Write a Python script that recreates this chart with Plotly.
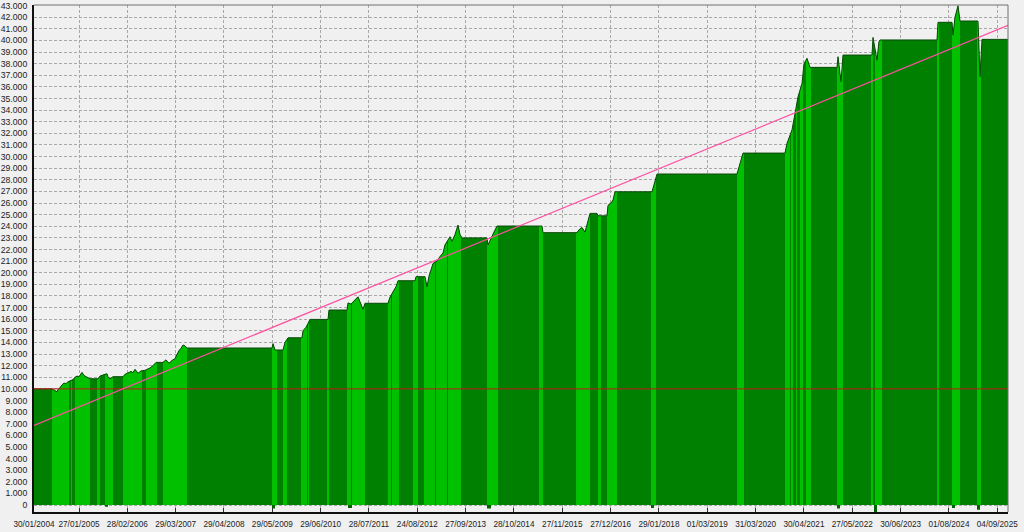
import numpy as np
import plotly.graph_objects as go

# ---- data (bar index along the test, account value) ----
eq_x = [0, 18, 20, 23, 24, 26, 28, 30, 32, 33, 35, 37, 39, 41, 43, 45, 47, 48, 50, 52, 54, 56, 64, 66, 69, 73,
        74, 76, 79, 89, 91, 94, 97, 99, 101, 104, 107, 111, 116, 119, 122, 129, 132, 135, 138, 141, 143, 145,
        147, 149, 151, 153, 238, 239, 241, 249, 251, 254, 268, 269, 272, 274, 276, 294, 295, 313, 314, 317,
        320, 324, 326, 329, 331, 354, 356, 360, 362, 364, 381, 382, 391, 393, 395, 399, 403, 406, 409, 411,
        414, 416, 418, 421, 424, 426, 428, 453, 454, 457, 460, 463, 508, 509, 543, 545, 548, 551, 554, 556,
        563, 564, 573, 574, 577, 579, 581, 618, 623, 703, 709, 751, 753, 758, 761, 764, 768, 770, 773, 776,
        803, 804, 807, 809, 838, 839, 843, 845, 846, 903, 904, 918, 919, 921, 924, 926, 944, 946, 948, 974]
eq_y = [10000, 10000, 9900, 9750, 9950, 10100, 10350, 10500, 10450, 10550, 10650, 10750, 10800, 11000, 11100,
        11050, 11250, 11420, 11150, 11050, 11000, 10870, 10870, 11100, 11200, 11300, 11050, 10850, 11050,
        11050, 11250, 11350, 11500, 11400, 11680, 11350, 11550, 11600, 11800, 12000, 12280, 12280, 12500,
        12200, 12450, 12600, 13000, 13300, 13500, 13780, 13700, 13520, 13520, 13900, 13350, 13350, 14000,
        14400, 14400, 15000, 15300, 15700, 15980, 15980, 16790, 16790, 17400, 17300, 17600, 17930, 17500,
        16850, 17370, 17370, 17900, 18500, 18800, 19310, 19310, 19660, 19660, 18800, 19700, 20800, 21000,
        21400, 21700, 22400, 22800, 23100, 22700, 23300, 24100, 23300, 23000, 23000, 22400, 23000, 23500,
        24020, 24020, 23450, 23450, 23700, 23900, 23500, 24400, 25110, 25110, 24900, 24900, 25800, 26000,
        26260, 26970, 26970, 28500, 28500, 30300, 30300, 31140, 32300, 33700, 35150, 36300, 38000, 38460,
        37680, 37680, 38600, 36450, 38740, 38740, 40260, 38300, 39900, 40040, 40040, 41560, 41560, 40460,
        42000, 42990, 41670, 41670, 36880, 40090, 40090]

# periods with open positions (bright green)
band_start = [18, 37, 41, 63, 71, 89, 112, 129, 238, 249, 267, 274, 293, 313, 318, 354, 358, 379, 390, 402,
              414, 453, 505, 542, 564, 573, 617, 703, 751, 757, 762, 766, 772, 803, 837, 841, 903, 918, 943]
band_end = [35, 38, 56, 66, 79, 108, 123, 153, 243, 253, 273, 275, 295, 317, 331, 357, 365, 384, 401, 413,
            427, 464, 509, 556, 567, 583, 622, 710, 756, 759, 763, 769, 777, 809, 839, 848, 905, 926, 947]

# small drawdown markers below zero
dip_start = [71, 238, 314, 453, 617, 803, 840, 918, 943]
dip_end = [74, 241, 318, 457, 620, 806, 843, 921, 946]
dip_depth = [-150, -300, -250, -300, -250, -300, -600, -250, -400]

# linear trend and initial deposit
trend_x = [0, 974]
trend_y = [6860, 41300]
initial_deposit = 10000

date_labels = ["30/01/2004", "27/01/2005", "28/02/2006", "29/03/2007", "29/04/2008", "29/05/2009",
               "29/06/2010", "28/07/2011", "24/08/2012", "27/09/2013", "28/10/2014", "27/11/2015",
               "27/12/2016", "29/01/2018", "01/03/2019", "31/03/2020", "30/04/2021", "27/05/2022",
               "30/06/2023", "01/08/2024", "04/09/2025"]

# ---- figure ----
BG = "#f0f0f0"
DARK = "#008000"
BRIGHT = "#00c000"

fig = go.Figure()

fig.add_trace(go.Scatter(x=eq_x, y=eq_y, mode="lines", line=dict(width=0, color=DARK),
                         fill="tozeroy", fillcolor=DARK, hoverinfo="skip", showlegend=False))

ex = np.array(eq_x, dtype=float)
ey = np.array(eq_y, dtype=float)
bx, by = [], []
for a, b in zip(band_start, band_end):
    inner = (ex > a) & (ex < b)
    xs = [a, a] + list(ex[inner]) + [b, b]
    ys = [0, float(np.interp(a, ex, ey))] + list(ey[inner]) + [float(np.interp(b, ex, ey)), 0]
    bx += xs + [None]
    by += ys + [None]
fig.add_trace(go.Scatter(x=bx, y=by, mode="lines", line=dict(width=0, color=BRIGHT),
                         fill="toself", fillcolor=BRIGHT, hoverinfo="skip", showlegend=False))

dx, dy = [], []
for a, b, d in zip(dip_start, dip_end, dip_depth):
    dx += [a, a, b, b, None]
    dy += [0, d, d, 0, None]
fig.add_trace(go.Scatter(x=dx, y=dy, mode="lines", line=dict(width=0, color="#006400"),
                         fill="toself", fillcolor="#006400", hoverinfo="skip", showlegend=False))

fig.add_trace(go.Scatter(x=eq_x, y=eq_y, mode="lines", line=dict(width=1, color="#0a4a0a"),
                         hoverinfo="skip", showlegend=False))

fig.add_trace(go.Scatter(x=[trend_x[0], trend_x[-1]], y=[initial_deposit, initial_deposit], mode="lines",
                         line=dict(width=1, color="#c01818"), hoverinfo="skip", showlegend=False))
fig.add_trace(go.Scatter(x=trend_x, y=trend_y, mode="lines", line=dict(width=1.2, color="#ff4fa0"),
                         hoverinfo="skip", showlegend=False))

tickvals = [0] + [45 + 48.33 * k for k in range(len(date_labels) - 1)]

fig.update_layout(
    width=1024, height=532,
    margin=dict(l=34, r=16, t=5, b=20),
    paper_bgcolor=BG, plot_bgcolor=BG,
    separators=",.",
    font=dict(family="Liberation Sans, Arial, sans-serif", color="#222222"),
    xaxis=dict(range=[0, 974], tickmode="array", tickvals=tickvals, ticktext=date_labels,
               showgrid=True, gridcolor="#a8a8a8", griddash="3px,2px", gridwidth=1,
               zeroline=False, showline=True, linecolor="#101010", linewidth=2,
               ticks="inside", ticklen=4, tickcolor="#303030", tickfont=dict(size=8.2),
               ticklabelstandoff=3, automargin=False),
    yaxis=dict(range=[-600, 43050], tick0=0, dtick=1000, tickformat=",d",
               showgrid=True, gridcolor="#a8a8a8", griddash="3px,2px", gridwidth=1,
               zeroline=False, showline=True, linecolor="#101010", linewidth=2,
               ticks="", tickfont=dict(size=8.7), ticklabelstandoff=3, automargin=False),
    shapes=[
        dict(type="line", xref="paper", yref="paper", x0=0, x1=1, y0=1, y1=1,
             line=dict(color="#707070", width=1), layer="above"),
        dict(type="line", xref="paper", yref="paper", x0=1, x1=1, y0=0, y1=1,
             line=dict(color="#707070", width=1), layer="above"),
    ],
)

fig.write_html("out.html", config={"displayModeBar": False},
               post_script="document.body.style.margin='0';document.body.style.overflow='hidden';")
